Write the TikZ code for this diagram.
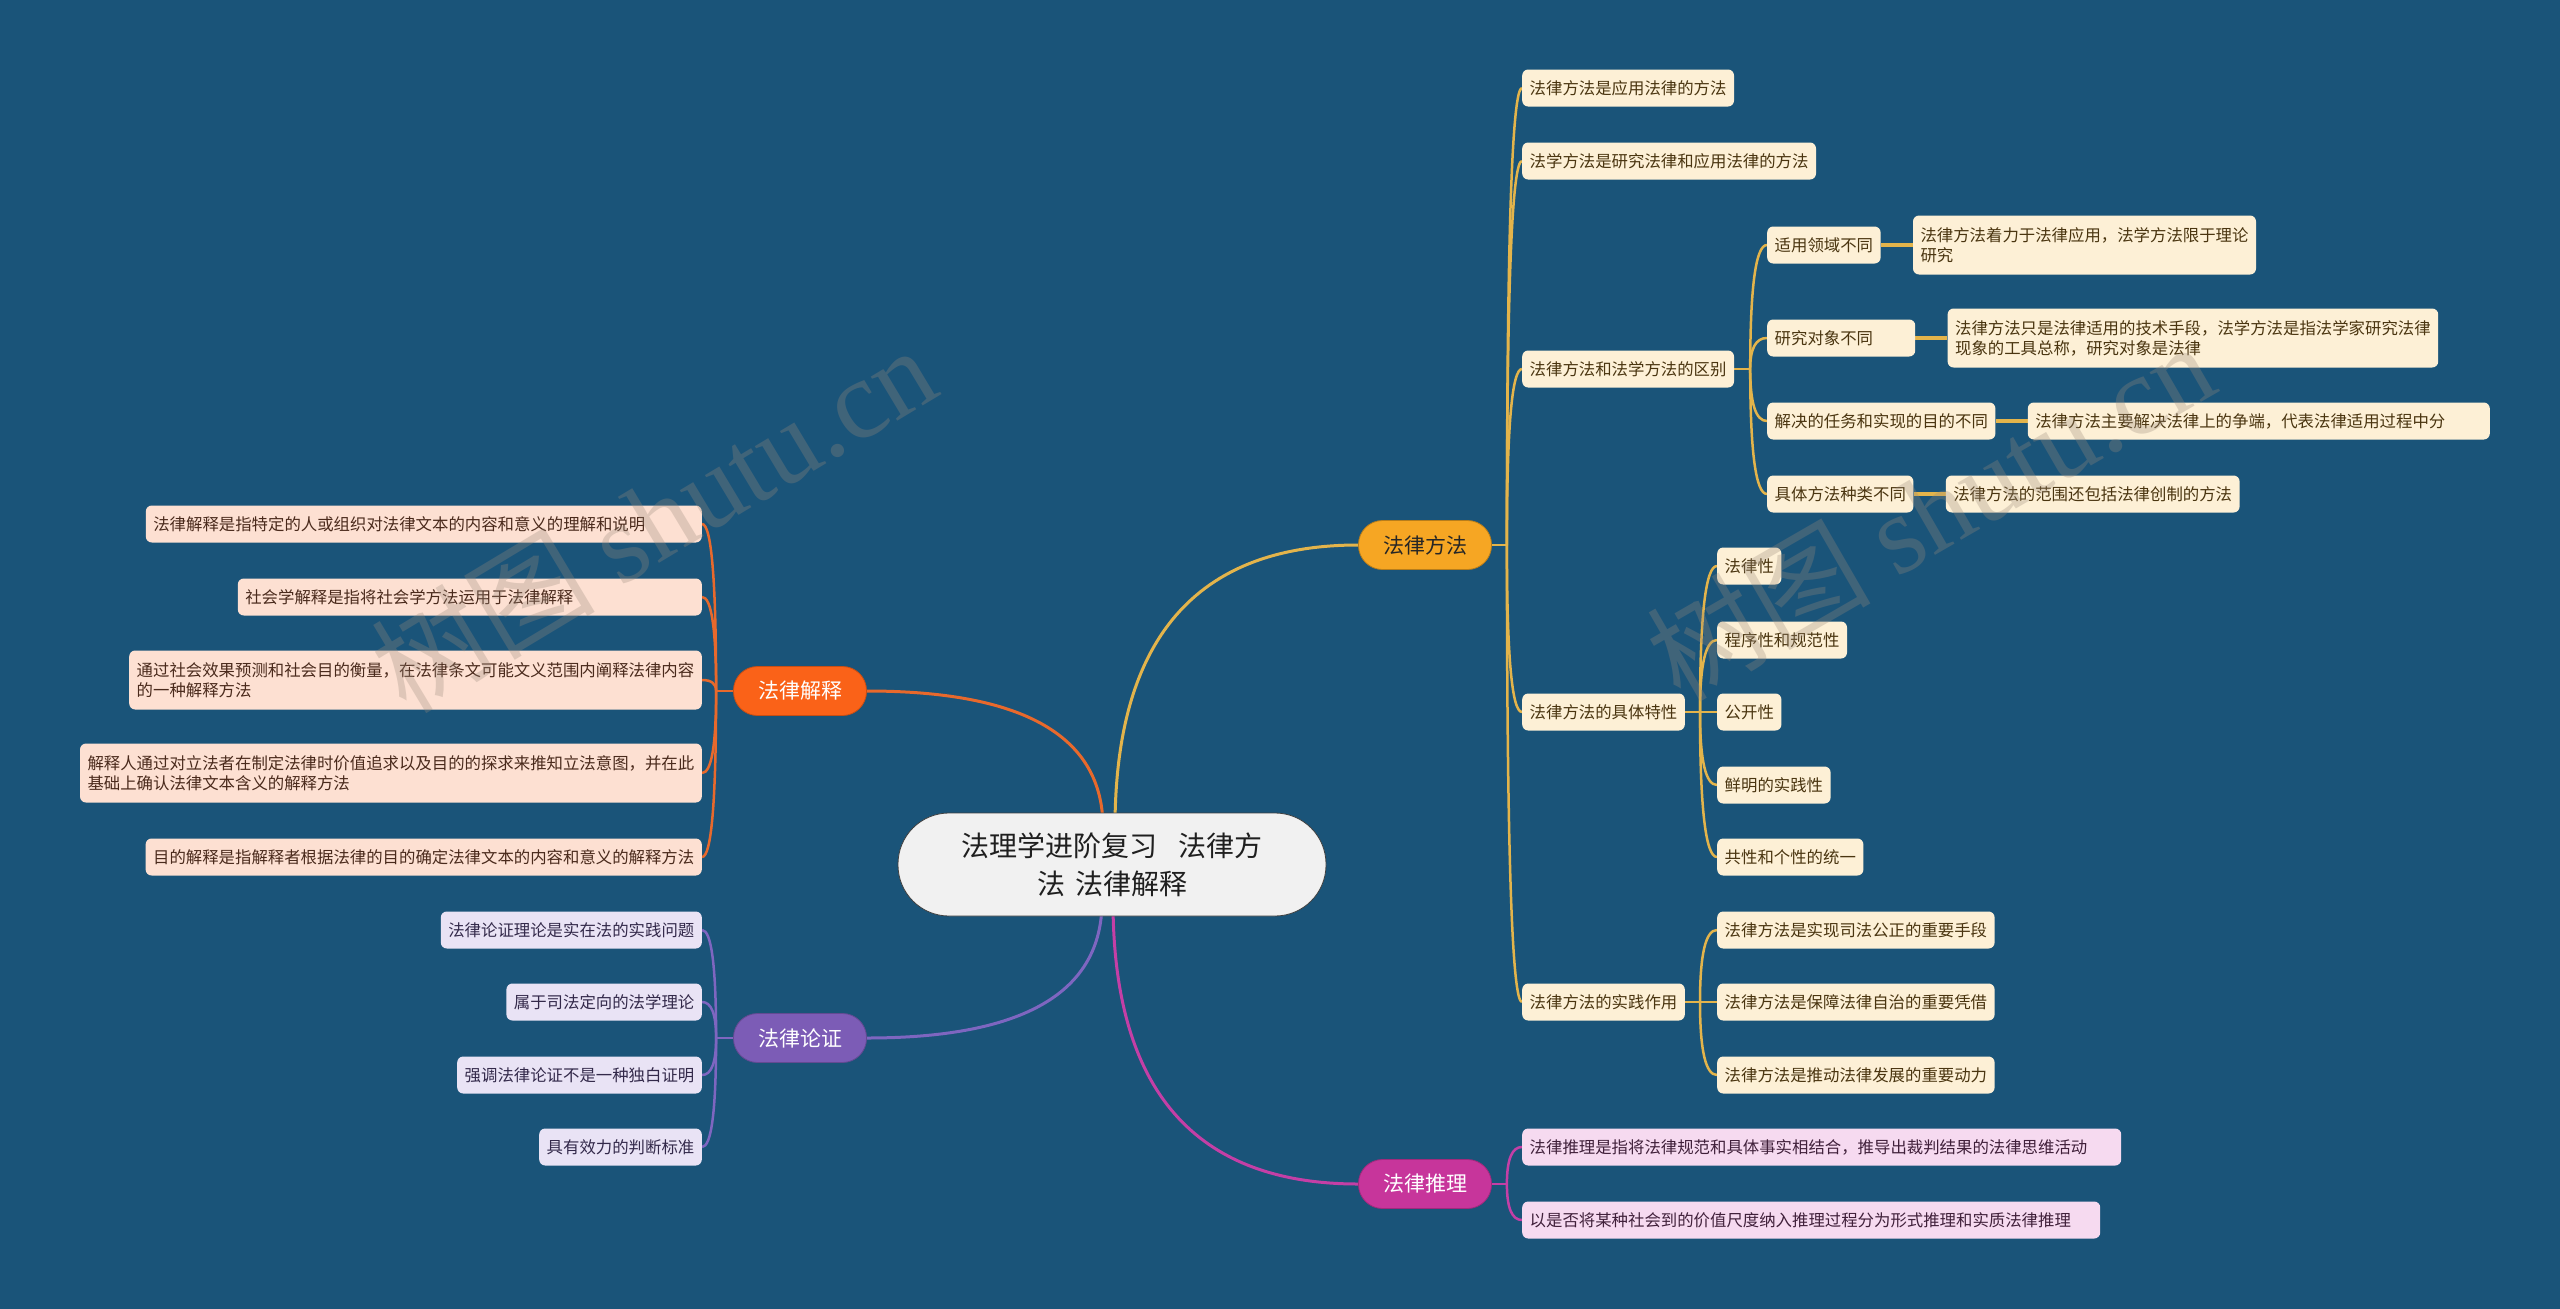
\documentclass[tikz,border=0pt]{standalone}
\usepackage{fontspec}
\setmainfont{Noto Sans CJK SC}
\newfontfamily\wmfont{Liberation Serif}
\usetikzlibrary{calc,positioning,backgrounds}
\definecolor{bgc}{HTML}{1A5479}
\definecolor{yline}{HTML}{E3B44B}
\definecolor{ymain}{HTML}{F6A623}
\definecolor{yfill}{HTML}{FDF0D6}
\definecolor{ytext}{HTML}{4A3510}
\definecolor{oline}{HTML}{E8692C}
\definecolor{omain}{HTML}{FA6218}
\definecolor{ofill}{HTML}{FDE0D2}
\definecolor{otext}{HTML}{4A2A1C}
\definecolor{pline}{HTML}{7E66C0}
\definecolor{pmain}{HTML}{7C5CB6}
\definecolor{pfill}{HTML}{E9E3F5}
\definecolor{ptext}{HTML}{33294A}
\definecolor{mline}{HTML}{C43FA6}
\definecolor{mmain}{HTML}{C7359B}
\definecolor{mfill}{HTML}{F6DAF0}
\definecolor{mtext}{HTML}{40203A}
\definecolor{cfill}{HTML}{F1F1F1}
\definecolor{wmc}{HTML}{9A8A7C}
\begin{document}
\begin{tikzpicture}[x=1pt,y=-1pt,
  box/.style={rounded corners=6pt, inner xsep=7.5pt, inner ysep=0pt, minimum height=37pt, align=left, font=\fontsize{16.4}{20}\selectfont},
  boxtwo/.style={minimum height=59pt},
  ybox/.style={box, fill=yfill, text=ytext},
  obox/.style={box, fill=ofill, text=otext},
  pbox/.style={box, fill=pfill, text=ptext},
  mbox/.style={box, fill=mfill, text=mtext},
  mainnode/.style={rounded corners=24pt, minimum width=133pt, minimum height=49pt, inner sep=0pt, line width=0.8pt, font=\fontsize{21}{25}\selectfont},
  ylink/.style={draw=yline, line width=2.5pt},
  olink/.style={draw=oline, line width=2.5pt},
  plink/.style={draw=pline, line width=2.5pt},
  mlink/.style={draw=mline, line width=2.5pt},
  ydet/.style={draw=yline, line width=3.5pt},
  qc/.style={to path={.. controls ($(\tikztostart)!0.667!(\tikztostart |- \tikztotarget)$) and ($(\tikztotarget)!0.667!(\tikztostart |- \tikztotarget)$) .. (\tikztotarget)}},
  wm/.style={text=wmc, text opacity=0.3, inner sep=0pt, font=\fontsize{112}{112}\selectfont}
]
\useasboundingbox (0,0) rectangle (2560,1309);
\begin{pgfonlayer}{background}
\fill[bgc] (0,0) rectangle (2560,1309);
\end{pgfonlayer}

% center
\node[rounded corners=51pt, minimum width=428pt, minimum height=103pt, inner sep=0pt, fill=cfill, draw=black!75, line width=0.8pt, text=black!88, align=center, font=\fontsize{28}{38}\selectfont] (C) at (1112,864.5) {法理学进阶复习\hspace{22pt}法律方\\法\hspace{10pt}法律解释};

% main nodes
\node[mainnode, fill=ymain, draw=ymain!75!black, text=black!85] (M1) at (1425,545) {法律方法};
\node[mainnode, fill=omain, draw=omain!80!black, text=white] (M2) at (800,691) {法律解释};
\node[mainnode, fill=pmain, draw=pmain!80!black, text=white] (M3) at (800,1038) {法律论证};
\node[mainnode, fill=mmain, draw=mmain!80!black, text=white] (M4) at (1425,1184) {法律推理};

% 法律方法 children
\node[ybox, anchor=west] (R1) at (1522,88) {法律方法是应用法律的方法};
\node[ybox, anchor=west] (R2) at (1522,161) {法学方法是研究法律和应用法律的方法};
\node[ybox, anchor=west] (R3) at (1522,369) {法律方法和法学方法的区别};
\node[ybox, anchor=west] (R4) at (1522,712) {法律方法的具体特性};
\node[ybox, anchor=west] (R5) at (1522,1002) {法律方法的实践作用};

\node[ybox, anchor=west] (R3a) at (1767,245) {适用领域不同};
\node[ybox, anchor=west, text width=133pt] (R3b) at (1767,338) {研究对象不同};
\node[ybox, anchor=west] (R3c) at (1767,421) {解决的任务和实现的目的不同};
\node[ybox, anchor=west] (R3d) at (1767,494) {具体方法种类不同};

\node[ybox, boxtwo, anchor=west, right=32pt of R3a] (D1) {法律方法着力于法律应用，法学方法限于理论\\研究};
\node[ybox, boxtwo, anchor=west, right=32pt of R3b] (D2) {法律方法只是法律适用的技术手段，法学方法是指法学家研究法律\\现象的工具总称，研究对象是法律};
\node[ybox, anchor=west, text width=447pt, right=32pt of R3c] (D3) {法律方法主要解决法律上的争端，代表法律适用过程中分};
\node[ybox, anchor=west, right=32pt of R3d] (D4) {法律方法的范围还包括法律创制的方法};

\node[ybox, anchor=west] (R4a) at (1717,566) {法律性};
\node[ybox, anchor=west] (R4b) at (1717,640) {程序性和规范性};
\node[ybox, anchor=west] (R4c) at (1717,712) {公开性};
\node[ybox, anchor=west] (R4d) at (1717,785) {鲜明的实践性};
\node[ybox, anchor=west] (R4e) at (1717,857) {共性和个性的统一};

\node[ybox, anchor=west] (R5a) at (1717,930) {法律方法是实现司法公正的重要手段};
\node[ybox, anchor=west] (R5b) at (1717,1002) {法律方法是保障法律自治的重要凭借};
\node[ybox, anchor=west] (R5c) at (1717,1075) {法律方法是推动法律发展的重要动力};

% 法律推理 children
\node[mbox, anchor=west, text width=584pt] (P1) at (1522,1147) {法律推理是指将法律规范和具体事实相结合，推导出裁判结果的法律思维活动};
\node[mbox, anchor=west, text width=563pt] (P2) at (1522,1220) {以是否将某种社会到的价值尺度纳入推理过程分为形式推理和实质法律推理};

% 法律解释 children
\node[obox, anchor=east, text width=541pt] (L1) at (702,524) {法律解释是指特定的人或组织对法律文本的内容和意义的理解和说明};
\node[obox, anchor=east, text width=449pt] (L2) at (702,597) {社会学解释是指将社会学方法运用于法律解释};
\node[obox, boxtwo, anchor=east] (L3) at (702,680) {通过社会效果预测和社会目的衡量，在法律条文可能文义范围内阐释法律内容\\的一种解释方法};
\node[obox, boxtwo, anchor=east] (L4) at (702,773) {解释人通过对立法者在制定法律时价值追求以及目的的探求来推知立法意图，并在此\\基础上确认法律文本含义的解释方法};
\node[obox, anchor=east] (L5) at (702,857) {目的解释是指解释者根据法律的目的确定法律文本的内容和意义的解释方法};

% 法律论证 children
\node[pbox, anchor=east] (A1) at (702,930) {法律论证理论是实在法的实践问题};
\node[pbox, anchor=east] (A2) at (702,1002) {属于司法定向的法学理论};
\node[pbox, anchor=east] (A3) at (702,1075) {强调法律论证不是一种独白证明};
\node[pbox, anchor=east] (A4) at (702,1147) {具有效力的判断标准};

% helper coordinates
\coordinate (cy) at ($(C.north)+(3,15)$);
\coordinate (co) at ($(C.north)+(-9,15)$);
\coordinate (cp) at ($(C.south)+(-10,-15)$);
\coordinate (cm) at ($(C.south)+(1,-15)$);
\coordinate (t1) at ($(M1.east)+(15,0)$);
\coordinate (t2) at ($(M2.west)+(-17,0)$);
\coordinate (t3) at ($(M3.west)+(-17,0)$);
\coordinate (t4) at ($(M4.east)+(15,0)$);
\coordinate (u3) at ($(R3.east)+(16,0)$);
\coordinate (u4) at ($(R4.east)+(15,0)$);
\coordinate (u5) at ($(R5.east)+(15,0)$);

\begin{pgfonlayer}{background}
% main curves
\draw[yline, line width=3pt] (cy) to[qc] (M1.west);
\draw[oline, line width=3pt] (co) to[qc] (M2.east);
\draw[pline, line width=3pt] (cp) to[qc] (M3.east);
\draw[mline, line width=3pt] (cm) to[qc] (M4.west);
% 法律方法
\draw[ylink] (M1.east) -- (t1);
\foreach \n in {R1,R2,R3,R4,R5} \draw[ylink] (t1) to[qc] (\n.west);
\draw[ylink] (R3.east) -- (u3);
\foreach \n in {R3a,R3b,R3c,R3d} \draw[ylink] (u3) to[qc] (\n.west);
\draw[ylink] (R4.east) -- (u4);
\foreach \n in {R4a,R4b,R4c,R4d,R4e} \draw[ylink] (u4) to[qc] (\n.west);
\draw[ylink] (R5.east) -- (u5);
\foreach \n in {R5a,R5b,R5c} \draw[ylink] (u5) to[qc] (\n.west);
\draw[ydet] (R3a.east) -- (D1.west);
\draw[ydet] (R3b.east) -- (D2.west);
\draw[ydet] (R3c.east) -- (D3.west);
\draw[ydet] (R3d.east) -- (D4.west);
% 法律解释
\draw[olink] (M2.west) -- (t2);
\foreach \n in {L1,L2,L3,L4,L5} \draw[olink] (t2) to[qc] (\n.east);
% 法律论证
\draw[plink] (M3.west) -- (t3);
\foreach \n in {A1,A2,A3,A4} \draw[plink] (t3) to[qc] (\n.east);
% 法律推理
\draw[mlink] (M4.east) -- (t4);
\foreach \n in {P1,P2} \draw[mlink] (t4) to[qc] (\n.west);
\end{pgfonlayer}

% watermarks
\node[wm, rotate=31] (W1) at (653,518) {树图 {\wmfont shutu.cn}};
\node[wm, rotate=30] (W2) at (1930,510) {树图 {\wmfont shutu.cn}};
\end{tikzpicture}
\end{document}
